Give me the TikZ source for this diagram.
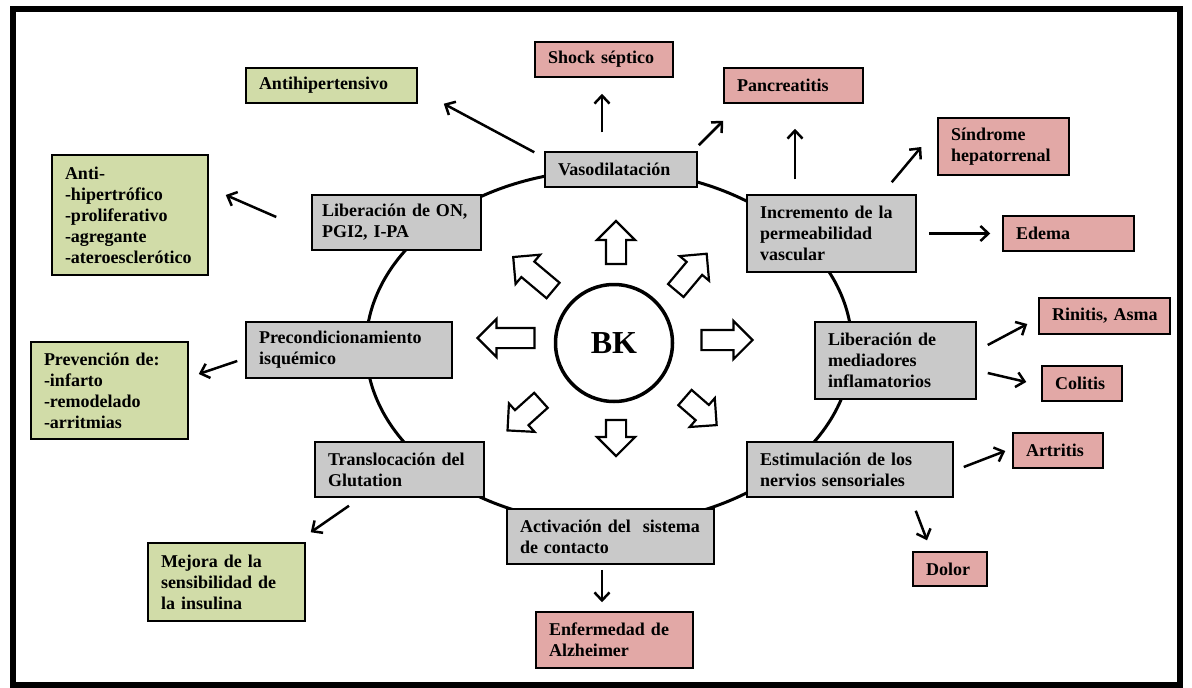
\documentclass[tikz,border=0pt]{standalone}
\usepackage{fontspec}
\setmainfont{Liberation Serif}
\usepackage{tikz}
\usetikzlibrary{calc, arrows.meta, positioning, shapes.arrows}
\usepackage{xcolor}
\definecolor{boxgrey}{RGB}{201,201,201}
\definecolor{boxgreen}{RGB}{209,220,168}
\definecolor{boxpink}{RGB}{226,168,166}

\begin{document}
\begin{tikzpicture}[x=1pt, y=1pt, >={Straight Barb[length=8pt, width=15pt]}]
	\tikzstyle{box} = [draw=black, line width=1.5pt, align=left, inner xsep=13pt, inner ysep=0pt, font=\bfseries\fontsize{18}{21}\selectfont]
	\tikzstyle{mech} = [box, fill=boxgrey]
	\tikzstyle{benef} = [box, fill=boxgreen]
	\tikzstyle{disease} = [box, fill=boxpink]
	\tikzstyle{conn} = [->, line width=2.5pt]
	\tikzstyle{hollow} = [draw=black, fill=white, line width=2.2pt, single arrow, single arrow head extend=9pt, inner xsep=0pt, inner ysep=9pt, minimum width=0pt]

	\useasboundingbox (0,0) rectangle (1192,-688);
	\draw[line width=6pt] (13,-9) rectangle (1180,-685);

	% ring behind the mechanism boxes
	\draw[line width=3pt] (609,-347) ellipse [x radius=243, y radius=177];

	\node[circle, draw, line width=3.5pt, fill=white, minimum size=117, inner sep=0pt,
		font=\bfseries\fontsize{32}{32}\selectfont] at (614,-343) (bk) {BK};

	\foreach \x/\y/\a/\l in {616/-247.5/90/43, 688/-276/50/48, 537/-277/140/52,
		511/-338/180/57, 722/-340/0/51, 528/-412/222/45, 616/-433/270/36, 697/-408/319/42}
		\node[hollow, rotate=\a, minimum height=\l] at (\x,\y) {};

	% mechanisms (text width = box width - 26)
	\node[mech, text width=126, minimum height=35] at (621,-169.5) (vaso) {Vasodilatación};
	\node[mech, text width=149, inner xsep=10pt, minimum height=55] at (396.5,-222.5) (libon) {Liberación~de~ON,\\PGI2, I-PA};
	\node[mech, text width=143, minimum height=77] at (831.5,-233.5) (incr) {Incremento de la\\permeabilidad\\vascular};
	\node[mech, text width=180, minimum height=56] at (349,-350) (precond) {Precondicionamiento\\isquémico};
	\node[mech, text width=135, minimum height=77] at (895.5,-360.5) (libmed) {Liberación de\\mediadores\\inflamatorios};
	\node[mech, text width=143, minimum height=55] at (399.5,-469.5) (transl) {Translocación del\\Glutation};
	\node[mech, text width=180, minimum height=55] at (850,-469.5) (estim) {Estimulación de los\\nervios sensoriales};
	\node[mech, text width=181, minimum height=55] at (610.5,-536.5) (activ) {Activación del~ sistema\\de contacto};

	% effects
	\node[benef, text width=145, minimum height=35] at (331.5,-85.5) (antihip) {Antihipertensivo};
	\node[benef, text width=130, minimum height=120] at (130,-215) (anti) {Anti-\\-hipertrófico\\-proliferativo\\-agregante\\-ateroesclerótico};
	\node[benef, text width=131, minimum height=97] at (109.5,-390.5) (prev) {Prevención de:\\-infarto\\-remodelado\\-arritmias};
	\node[benef, text width=131, minimum height=78] at (226.5,-582) (mejora) {Mejora de la\\sensibilidad de\\la insulina};

	\node[disease, text width=112, minimum height=35] at (604,-59.5) (shock) {Shock séptico};
	\node[disease, text width=113, minimum height=35] at (793.5,-85.5) (pancr) {Pancreatitis};
	\node[disease, text width=105, minimum height=57] at (1003.5,-146.5) (sindr) {Síndrome\\hepatorrenal};
	\node[disease, text width=105, minimum height=35] at (1068.5,-233.5) (edema) {Edema};
	\node[disease, text width=105, minimum height=36] at (1104.5,-316) (rinitis) {Rinitis,~Asma};
	\node[disease, text width=54, minimum height=35] at (1082,-383.5) (colitis) {Colitis};
	\node[disease, text width=64, minimum height=35] at (1058,-450.5) (artritis) {Artritis};
	\node[disease, text width=48, minimum height=34] at (950,-569) (dolor) {Dolor};
	\node[disease, text width=131, minimum height=56] at (614.5,-640) (alz) {Enfermedad de\\Alzheimer};

	\draw[conn] ([shift={(-10,-1)}]vaso.north west) -- ([shift={(26,0)}]antihip.south east);
	\draw[conn] ([shift={(-19,19)}]vaso.north) -- ([shift={(-2,-16)}]shock.south);
	\draw[conn] ([shift={(1,6)}]vaso.north east) -- ([shift={(0,-17)}]pancr.south west);
	\draw[conn] ([shift={(-36.5,15)}]incr.north) -- ([shift={(1.5,-25)}]pancr.south);
	\draw[conn] ([shift={(-25,12)}]incr.north east) -- ([shift={(-16,-0.5)}]sindr.west);
	\draw[conn] ([shift={(12,0)}]incr.east) -- ([shift={(-12,0)}]edema.west);
	\draw[conn] ([shift={(-35,5.5)}]libon.west) -- ([shift={(17,20)}]anti.east);
	\draw[conn] ([shift={(-8,-11)}]precond.west) -- ([shift={(10,16.5)}]prev.east);
	\draw[conn] ([shift={(-50.5,-8)}]transl.south) -- ([shift={(5,10)}]mejora.north east);
	\draw[conn] ([shift={(-8.5,-5)}]activ.south) -- ([shift={(-12.5,9)}]alz.north);
	\draw[conn] ([shift={(10,2.5)}]estim.east) -- ([shift={(-7,-0.5)}]artritis.west);
	\draw[conn] ([shift={(-38,-13)}]estim.south east) -- ([shift={(-23,11)}]dolor.north);
	\draw[conn] ([shift={(11,15.5)}]libmed.east) -- ([shift={(-11,-8)}]rinitis.west);
	\draw[conn] ([shift={(11,-12.5)}]libmed.east) -- ([shift={(-15,1.5)}]colitis.west);
\end{tikzpicture}
\end{document}
